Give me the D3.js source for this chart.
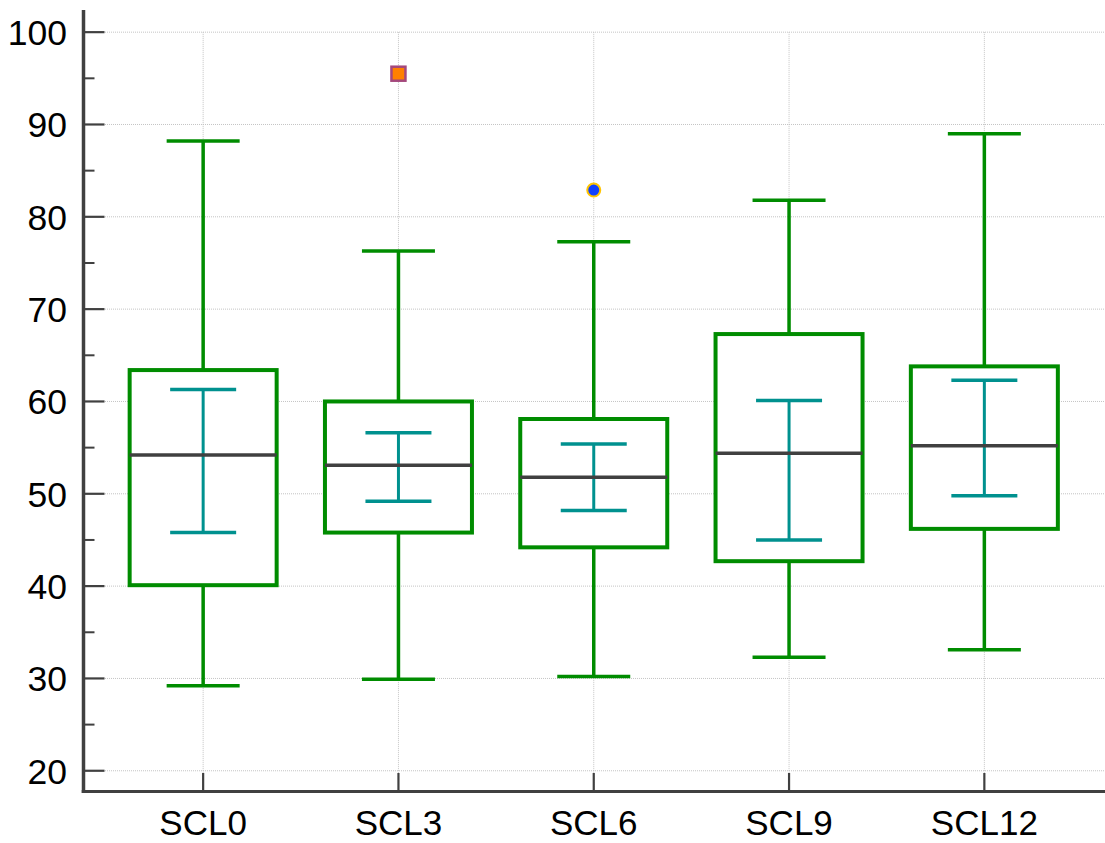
<!DOCTYPE html>
<html>
<head>
<meta charset="utf-8">
<script src="https://cdn.jsdelivr.net/npm/d3@7"></script>
<style>
  html, body { margin: 0; padding: 0; background: #fff; }
  svg { display: block; }
  text { font-family: "Liberation Sans", Arial, sans-serif; fill: #000; }
</style>
</head>
<body>
<svg id="chart" width="1105" height="843"></svg>
<script>
const categories = ["SCL0", "SCL3", "SCL6", "SCL9", "SCL12"];
const whiskerLow  = [29.2, 29.9, 30.2, 32.3, 33.1];
const q1          = [40.1, 45.8, 44.2, 42.7, 46.2];
const median      = [54.2, 53.1, 51.8, 54.4, 55.2];
const q3          = [63.4, 60.0, 58.1, 67.3, 63.8];
const whiskerHigh = [88.2, 76.3, 77.3, 81.8, 89.0];
const ciLow       = [45.8, 49.2, 48.2, 45.0, 49.8];
const ciHigh      = [61.3, 56.6, 55.4, 60.1, 62.3];
const outlierCats   = ["SCL3", "SCL6"];
const outlierValues = [95.5, 82.9];
const outlierShapes = ["square", "circle"];
const yTicks = [20, 30, 40, 50, 60, 70, 80, 90, 100];
const yMinorTicks = [25, 35, 45, 55, 65, 75, 85, 95];

const svg = d3.select("#chart");
const W = 1105, H = 843;
const axisX = 83.5, axisY = 791.5;

const x = d3.scaleBand().domain(categories).range([105.5, 1082]).padding(0);
const y = d3.scaleLinear().domain([17.7, 102.4]).range([792, 10]);
const cx = c => x(c) + x.bandwidth() / 2;

const GREEN = "#008c00", TEAL = "#00918f", DARK = "#404040";
const boxW = 147, capW = 73, ciW = 66;

// gridlines
const grid = svg.append("g");
grid.selectAll("line.h").data(yTicks).join("line")
  .attr("x1", 105).attr("x2", W)
  .attr("y1", d => y(d)).attr("y2", d => y(d))
  .attr("stroke", "#c4c4c4").attr("stroke-width", 1).attr("stroke-dasharray", "1,1");
grid.selectAll("line.v").data(categories).join("line")
  .attr("x1", d => cx(d)).attr("x2", d => cx(d))
  .attr("y1", y(100)).attr("y2", axisY)
  .attr("stroke", "#c4c4c4").attr("stroke-width", 1).attr("stroke-dasharray", "1,1");

const data = categories.map((c, i) => ({
  c, lo: whiskerLow[i], q1: q1[i], med: median[i], q3: q3[i], hi: whiskerHigh[i], ciLo: ciLow[i], ciHi: ciHigh[i]
}));

const g = svg.append("g").selectAll("g").data(data).join("g");
// whiskers
g.append("line").attr("x1", d => cx(d.c)).attr("x2", d => cx(d.c))
  .attr("y1", d => y(d.hi)).attr("y2", d => y(d.q3))
  .attr("stroke", GREEN).attr("stroke-width", 3.5);
g.append("line").attr("x1", d => cx(d.c)).attr("x2", d => cx(d.c))
  .attr("y1", d => y(d.q1)).attr("y2", d => y(d.lo))
  .attr("stroke", GREEN).attr("stroke-width", 3.5);
g.append("line").attr("x1", d => cx(d.c) - capW / 2).attr("x2", d => cx(d.c) + capW / 2)
  .attr("y1", d => y(d.hi)).attr("y2", d => y(d.hi))
  .attr("stroke", GREEN).attr("stroke-width", 3.5);
g.append("line").attr("x1", d => cx(d.c) - capW / 2).attr("x2", d => cx(d.c) + capW / 2)
  .attr("y1", d => y(d.lo)).attr("y2", d => y(d.lo))
  .attr("stroke", GREEN).attr("stroke-width", 3.5);
// box
g.append("rect").attr("x", d => cx(d.c) - boxW / 2).attr("width", boxW)
  .attr("y", d => y(d.q3)).attr("height", d => y(d.q1) - y(d.q3))
  .attr("fill", "#fff").attr("stroke", GREEN).attr("stroke-width", 4);
// CI bar
g.append("line").attr("x1", d => cx(d.c)).attr("x2", d => cx(d.c))
  .attr("y1", d => y(d.ciHi)).attr("y2", d => y(d.ciLo))
  .attr("stroke", TEAL).attr("stroke-width", 3);
g.append("line").attr("x1", d => cx(d.c) - ciW / 2).attr("x2", d => cx(d.c) + ciW / 2)
  .attr("y1", d => y(d.ciHi)).attr("y2", d => y(d.ciHi))
  .attr("stroke", TEAL).attr("stroke-width", 3.5);
g.append("line").attr("x1", d => cx(d.c) - ciW / 2).attr("x2", d => cx(d.c) + ciW / 2)
  .attr("y1", d => y(d.ciLo)).attr("y2", d => y(d.ciLo))
  .attr("stroke", TEAL).attr("stroke-width", 3.5);
// median
g.append("line").attr("x1", d => cx(d.c) - boxW / 2).attr("x2", d => cx(d.c) + boxW / 2)
  .attr("y1", d => y(d.med)).attr("y2", d => y(d.med))
  .attr("stroke", DARK).attr("stroke-width", 3.5);

// outliers
outlierCats.forEach((c, i) => {
  const px = cx(c), py = y(outlierValues[i]);
  if (outlierShapes[i] === "square") {
    svg.append("rect").attr("x", px - 7).attr("y", py - 7).attr("width", 14).attr("height", 14)
      .attr("fill", "#ff8000").attr("stroke", "#a4487c").attr("stroke-width", 2.5);
  } else {
    svg.append("circle").attr("cx", px).attr("cy", py).attr("r", 6.5)
      .attr("fill", "#1040ff").attr("stroke", "#ffc400").attr("stroke-width", 2);
  }
});

// axes
const axes = svg.append("g");
axes.append("line").attr("x1", axisX).attr("x2", axisX).attr("y1", 10).attr("y2", axisY + 1.5)
  .attr("stroke", DARK).attr("stroke-width", 3.5);
axes.append("line").attr("x1", axisX - 1.75).attr("x2", W).attr("y1", axisY).attr("y2", axisY)
  .attr("stroke", DARK).attr("stroke-width", 3);
axes.selectAll("line.ymaj").data(yTicks).join("line")
  .attr("x1", axisX).attr("x2", 104.5).attr("y1", d => y(d)).attr("y2", d => y(d))
  .attr("stroke", DARK).attr("stroke-width", 2.2);
axes.selectAll("line.ymin").data(yMinorTicks).join("line")
  .attr("x1", axisX).attr("x2", 94.5).attr("y1", d => y(d)).attr("y2", d => y(d))
  .attr("stroke", DARK).attr("stroke-width", 2);
axes.selectAll("line.xt").data(categories).join("line")
  .attr("x1", d => cx(d)).attr("x2", d => cx(d)).attr("y1", 773).attr("y2", axisY)
  .attr("stroke", DARK).attr("stroke-width", 2.2);
axes.selectAll("text.yl").data(yTicks).join("text")
  .attr("x", 67).attr("y", d => y(d)).attr("dy", "0.36em")
  .attr("text-anchor", "end").attr("font-size", 35.5).text(d => d);
axes.selectAll("text.xl").data(categories).join("text")
  .attr("x", d => cx(d)).attr("y", 835).attr("text-anchor", "middle")
  .attr("font-size", 35).text(d => d);
</script>
</body>
</html>
